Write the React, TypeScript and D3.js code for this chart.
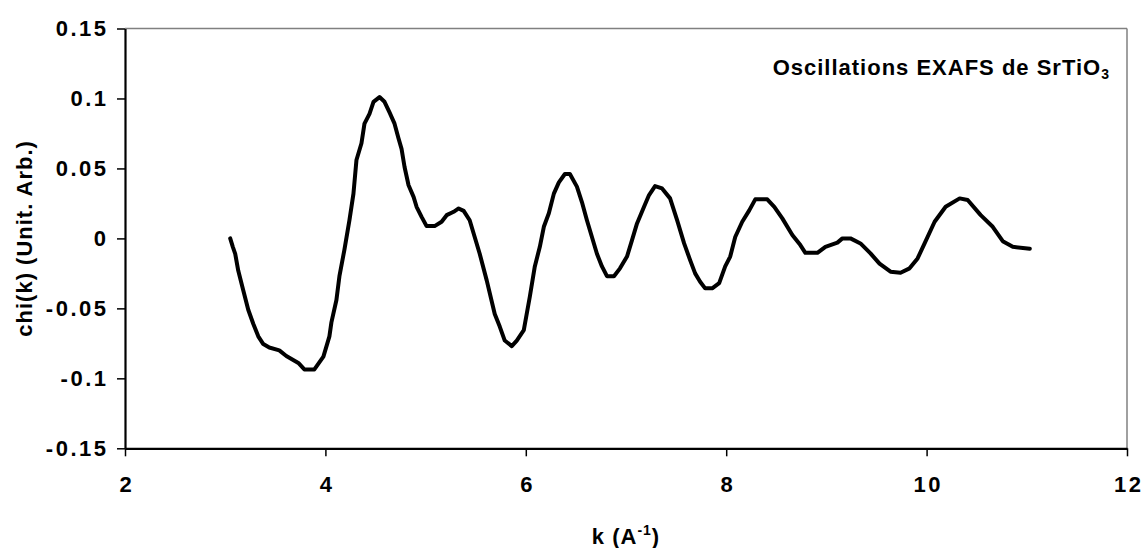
import React, { useEffect, useRef } from "react";
import * as d3 from "d3";

const kValues = [3.05, 3.076, 3.10, 3.13, 3.18, 3.23, 3.28, 3.33, 3.38, 3.44, 3.54, 3.61, 3.73, 3.79, 3.89, 3.98, 4.04, 4.06, 4.11, 4.14, 4.19, 4.24, 4.28, 4.31, 4.36, 4.39, 4.44, 4.48, 4.54, 4.59, 4.64, 4.69, 4.73, 4.76, 4.79, 4.83, 4.88, 4.91, 4.96, 5.01, 5.09, 5.16, 5.21, 5.28, 5.33, 5.38, 5.44, 5.49, 5.54, 5.61, 5.69, 5.74, 5.79, 5.86, 5.91, 5.98, 6.04, 6.09, 6.14, 6.18, 6.23, 6.28, 6.33, 6.39, 6.44, 6.51, 6.56, 6.61, 6.66, 6.71, 6.76, 6.81, 6.88, 6.94, 7.01, 7.06, 7.11, 7.18, 7.23, 7.29, 7.36, 7.44, 7.51, 7.58, 7.64, 7.69, 7.74, 7.79, 7.86, 7.93, 7.99, 8.04, 8.09, 8.16, 8.23, 8.29, 8.41, 8.48, 8.56, 8.66, 8.74, 8.79, 8.91, 8.99, 9.11, 9.16, 9.24, 9.34, 9.44, 9.53, 9.64, 9.74, 9.83, 9.91, 9.98, 10.08, 10.19, 10.33, 10.41, 10.54, 10.66, 10.76, 10.86, 11.03];
const chiValues = [0.0, -0.006, -0.011, -0.023, -0.037, -0.051, -0.061, -0.070, -0.0755, -0.078, -0.080, -0.084, -0.089, -0.0936, -0.0936, -0.0845, -0.070, -0.060, -0.044, -0.027, -0.008, 0.013, 0.032, 0.056, 0.068, 0.082, 0.089, 0.0976, 0.101, 0.0976, 0.090, 0.082, 0.0714, 0.064, 0.051, 0.038, 0.0297, 0.0226, 0.0154, 0.0088, 0.0088, 0.0119, 0.0166, 0.019, 0.0214, 0.0197, 0.013, 0.001, -0.011, -0.030, -0.054, -0.063, -0.073, -0.077, -0.073, -0.0655, -0.0417, -0.020, -0.006, 0.0083, 0.018, 0.032, 0.040, 0.046, 0.046, 0.037, 0.026, 0.013, 0.001, -0.011, -0.020, -0.027, -0.027, -0.0214, -0.013, -0.0012, 0.0107, 0.0226, 0.031, 0.0374, 0.0357, 0.0286, 0.013, -0.0036, -0.0155, -0.025, -0.031, -0.0357, -0.0357, -0.032, -0.020, -0.013, 0.001, 0.0119, 0.020, 0.0279, 0.0279, 0.0226, 0.0143, 0.0024, -0.0048, -0.0103, -0.0103, -0.006, -0.003, 0.0, 0.0, -0.0036, -0.0107, -0.018, -0.0238, -0.0245, -0.0214, -0.0143, -0.0036, 0.0119, 0.0226, 0.0286, 0.0274, 0.0166, 0.0083, -0.002, -0.006, -0.0074];

const xTicks = [2, 4, 6, 8, 10, 12];
const yTicks = [0.15, 0.1, 0.05, 0, -0.05, -0.1, -0.15];
const yTickLabels = ["0.15", "0.1", "0.05", "0", "-0.05", "-0.1", "-0.15"];

const W = 1143, H = 548;
const m = { left: 125, right: 1127, top: 28.5, bottom: 448.3 };
const FONT = "'Liberation Sans', Arial, sans-serif";
const FS = 22;
const LS = 2.5;

export default function App() {
  const ref = useRef<SVGSVGElement>(null);
  useEffect(() => {
    const svg = d3.select(ref.current);
    svg.selectAll("*").remove();
    const x = d3.scaleLinear().domain([2, 12]).range([m.left, m.right]);
    const y = d3.scaleLinear().domain([-0.15, 0.15]).range([m.bottom, m.top]);

    svg.append("line").attr("x1", m.left).attr("x2", m.right).attr("y1", m.top).attr("y2", m.top)
      .attr("stroke", "#808080").attr("stroke-width", 1.5);
    svg.append("line").attr("x1", m.right).attr("x2", m.right).attr("y1", m.top).attr("y2", m.bottom)
      .attr("stroke", "#808080").attr("stroke-width", 1.5);

    const xAxis = d3.axisBottom(x).tickValues(xTicks).tickSize(8).tickSizeOuter(0).tickFormat(d3.format("d") as any);
    const gx = svg.append("g").attr("transform", `translate(0,${m.bottom})`).call(xAxis);
    gx.select(".domain").attr("stroke", "#000").attr("stroke-width", 2.2);
    gx.selectAll(".tick line").attr("stroke", "#000").attr("stroke-width", 1.5);
    gx.selectAll(".tick text").attr("font-family", FONT).attr("font-weight", "bold")
      .attr("font-size", FS).attr("letter-spacing", LS).attr("fill", "#000")
      .attr("y", 44).attr("dy", 0).attr("dx", LS / 2);

    const yAxis = d3.axisLeft(y).tickValues(yTicks).tickSize(8).tickSizeOuter(0)
      .tickFormat((d, i) => yTickLabels[i]);
    const gy = svg.append("g").attr("transform", `translate(${m.left},0)`).call(yAxis);
    gy.select(".domain").attr("stroke", "#000").attr("stroke-width", 2.2);
    gy.selectAll(".tick line").attr("stroke", "#000").attr("stroke-width", 1.5);
    gy.selectAll(".tick text").attr("font-family", FONT).attr("font-weight", "bold")
      .attr("font-size", FS).attr("letter-spacing", LS).attr("fill", "#000").attr("x", -16.5);

    const line = d3.line<number>().x((d, i) => x(kValues[i])).y((d) => y(d)).curve(d3.curveLinear);
    svg.append("path").datum(chiValues).attr("d", line).attr("fill", "none")
      .attr("stroke", "#000").attr("stroke-width", 4).attr("stroke-linejoin", "round").attr("stroke-linecap", "round");

    const t = svg.append("text").attr("x", 1110).attr("y", 75).attr("text-anchor", "end")
      .attr("font-family", FONT).attr("font-weight", "bold").attr("font-size", FS)
      .attr("letter-spacing", 1).attr("fill", "#000");
    t.append("tspan").text("Oscillations EXAFS de SrTiO");
    t.append("tspan").attr("font-size", 14).attr("dy", 4).text("3");

    const xt = svg.append("text").attr("x", (m.left + m.right) / 2).attr("y", 544).attr("text-anchor", "middle")
      .attr("font-family", FONT).attr("font-weight", "bold").attr("font-size", FS).attr("letter-spacing", 1).attr("fill", "#000");
    xt.append("tspan").text("k (A");
    xt.append("tspan").attr("font-size", 14).attr("dy", -9).text("-1");
    xt.append("tspan").attr("dy", 9).text(")");

    svg.append("text").attr("transform", `translate(32,${(m.top + m.bottom) / 2}) rotate(-90)`)
      .attr("text-anchor", "middle").attr("font-family", FONT).attr("font-weight", "bold")
      .attr("font-size", FS).attr("letter-spacing", 1).attr("fill", "#000").text("chi(k) (Unit. Arb.)");
  }, []);
  return (
    <svg ref={ref} width={W} height={H} style={{ position: "absolute", left: 0, top: 0, background: "#fff" }} />
  );
}
